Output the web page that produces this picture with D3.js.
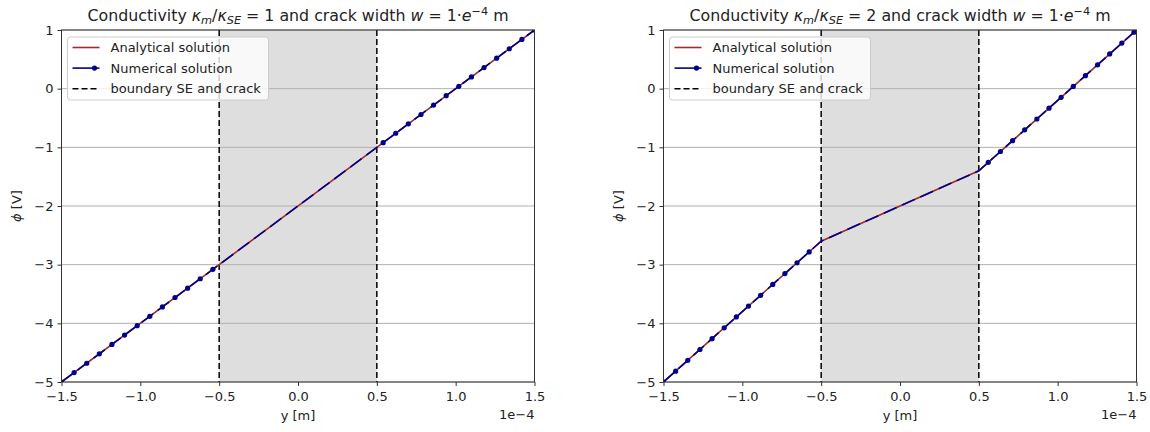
<!DOCTYPE html>
<html>
<head>
<meta charset="utf-8">
<script src="https://cdn.jsdelivr.net/npm/d3@7"></script>
<style>
  body { margin: 0; background: #fff; }
  svg { font-family: "DejaVu Sans", sans-serif; }
</style>
</head>
<body>
<svg id="chart" width="1150" height="432"></svg>
<script>
// axis ticks (x in units of 1e-4 m)
const xTicks = [-1.5, -1.0, -0.5, 0.0, 0.5, 1.0, 1.5];
const yTicks = [-5, -4, -3, -2, -1, 0, 1];
const crackBounds = [-0.5, 0.5];

// analytical solution: piecewise linear breakpoints
const breakX = [-1.5, -0.5, 0.5, 1.5];
const analytic1 = [-5, -3, -1, 1];
const analytic2 = [-5, -2.6, -1.4, 1];

// numerical solution nodes (shown with markers)
const numX1 = [-1.5, -1.42, -1.34, -1.26, -1.18, -1.10, -1.02, -0.94, -0.86, -0.78, -0.70, -0.62, -0.54,
               0.54, 0.62, 0.70, 0.78, 0.86, 0.94, 1.02, 1.10, 1.18, 1.26, 1.34, 1.42, 1.5];
const numY1 = [-5, -4.84, -4.68, -4.52, -4.36, -4.2, -4.04, -3.88, -3.72, -3.56, -3.4, -3.24, -3.08,
               -0.92, -0.76, -0.6, -0.44, -0.28, -0.12, 0.04, 0.2, 0.36, 0.52, 0.68, 0.84, 1.0];
const numX2 = [-1.5, -1.423, -1.346, -1.269, -1.192, -1.115, -1.038, -0.961, -0.884, -0.807, -0.73, -0.653, -0.576,
               0.56, 0.637, 0.714, 0.791, 0.868, 0.945, 1.022, 1.099, 1.176, 1.253, 1.33, 1.407, 1.484];
const numY2 = [-5, -4.815, -4.63, -4.446, -4.261, -4.076, -3.891, -3.706, -3.522, -3.337, -3.152, -2.967, -2.782,
               -1.256, -1.071, -0.886, -0.702, -0.517, -0.332, -0.147, 0.038, 0.222, 0.407, 0.592, 0.777, 0.962];

const panels = [
  { left: 61.5, ratio: '1', analytic: analytic1, nx: numX1, ny: numY1 },
  { left: 663.5, ratio: '2', analytic: analytic2, nx: numX2, ny: numY2 }
];

const redColor = '#a52a2a';
const blueColor = '#00008b';
const plotTop = 30, W = 473, H = 352;
const fs = 13, titleFs = 15.8, subFs = 11.3;
const fmt = d => (d < 0 ? '\u2212' : '') + Math.abs(d).toFixed(1);
const fmtY = d => (d < 0 ? '\u2212' : '') + Math.abs(d);

const svg = d3.select('#chart');

panels.forEach((p, i) => {
  const x = d3.scaleLinear().domain([-1.5, 1.5]).range([0, W]);
  const y = d3.scaleLinear().domain([-5, 1]).range([H, 0]);
  const g = svg.append('g').attr('transform', `translate(${p.left},${plotTop})`);

  g.append('defs').append('clipPath').attr('id', 'clip' + i)
    .append('rect').attr('width', W).attr('height', H);

  // shaded crack region
  g.append('rect')
    .attr('x', x(crackBounds[0])).attr('y', 0)
    .attr('width', x(crackBounds[1]) - x(crackBounds[0])).attr('height', H)
    .attr('fill', '#dedede');

  // horizontal grid
  g.selectAll('.grid').data(yTicks).enter().append('line')
    .attr('x1', 0).attr('x2', W)
    .attr('y1', d => y(d)).attr('y2', d => y(d))
    .attr('stroke', '#b0b0b0').attr('stroke-width', 1);

  const plot = g.append('g').attr('clip-path', `url(#clip${i})`);

  // boundary lines
  plot.selectAll('.bnd').data(crackBounds).enter().append('line')
    .attr('x1', d => x(d)).attr('x2', d => x(d))
    .attr('y1', 0).attr('y2', H)
    .attr('stroke', '#000').attr('stroke-width', 1.5)
    .attr('stroke-dasharray', '6,3');

  const line = d3.line().x(d => x(d[0])).y(d => y(d[1]));
  const aPts = breakX.map((bx, k) => [bx, p.analytic[k]]);
  const nPts = p.nx.map((nx, k) => [nx, p.ny[k]]);
  const nLine = nPts.concat(aPts).sort((a, b) => a[0] - b[0]);

  plot.append('path').datum(aPts).attr('d', line)
    .attr('fill', 'none').attr('stroke', redColor).attr('stroke-width', 1.6);
  plot.append('path').datum(nLine).attr('d', line)
    .attr('fill', 'none').attr('stroke', blueColor).attr('stroke-width', 1.6)
    .attr('stroke-dasharray', '14,6');
  plot.selectAll('.dot').data(nPts).enter().append('circle')
    .attr('cx', d => x(d[0])).attr('cy', d => y(d[1]))
    .attr('r', 2.6).attr('fill', blueColor);

  // axes
  const xAxis = g.append('g').attr('transform', `translate(0,${H})`)
    .call(d3.axisBottom(x).tickValues(xTicks).tickFormat(fmt).tickSize(4).tickPadding(6));
  const yAxis = g.append('g')
    .call(d3.axisLeft(y).tickValues(yTicks).tickFormat(fmtY).tickSize(4).tickPadding(4));
  [xAxis, yAxis].forEach(a => {
    a.select('.domain').remove();
    a.selectAll('text').attr('font-size', fs).attr('fill', '#222')
      .attr('font-family', '"DejaVu Sans", sans-serif');
    a.selectAll('line').attr('stroke', '#333');
  });

  // frame
  g.append('rect').attr('width', W).attr('height', H)
    .attr('fill', 'none').attr('stroke', '#333').attr('stroke-width', 1);

  // labels
  g.append('text').attr('x', W / 2).attr('y', H + 38)
    .attr('text-anchor', 'middle').attr('font-size', fs).attr('fill', '#222')
    .text('y [m]');
  g.append('text').attr('x', W).attr('y', H + 37)
    .attr('text-anchor', 'end').attr('font-size', fs).attr('fill', '#222')
    .text('1e\u22124');
  const yl = g.append('text')
    .attr('transform', `translate(-41,${H / 2}) rotate(-90)`)
    .attr('text-anchor', 'middle').attr('font-size', fs).attr('fill', '#222');
  yl.append('tspan').attr('font-style', 'italic').text('\u03d5');
  yl.append('tspan').text(' [V]');

  // title
  const t = g.append('text').attr('x', W / 2).attr('y', -9)
    .attr('text-anchor', 'middle').attr('font-size', titleFs).attr('fill', '#222');
  t.append('tspan').text('Conductivity ');
  t.append('tspan').attr('font-style', 'italic').text('\u03ba');
  t.append('tspan').attr('font-style', 'italic').attr('font-size', subFs).attr('dy', 3).text('m');
  t.append('tspan').attr('dy', -3).text('/');
  t.append('tspan').attr('font-style', 'italic').text('\u03ba');
  t.append('tspan').attr('font-style', 'italic').attr('font-size', subFs).attr('dy', 3).text('SE');
  t.append('tspan').attr('dy', -3).text(' = ' + p.ratio + ' and crack width ');
  t.append('tspan').attr('font-style', 'italic').text('w');
  t.append('tspan').text(' = 1\u00b7');
  t.append('tspan').attr('font-style', 'italic').text('e');
  t.append('tspan').attr('font-size', subFs).attr('dy', -6).text('\u22124');
  t.append('tspan').attr('dy', 6).text(' m');

  // legend
  const lg = g.append('g').attr('transform', 'translate(6,7)');
  lg.append('rect').attr('width', 201).attr('height', 63).attr('rx', 3)
    .attr('fill', 'white').attr('fill-opacity', 0.8)
    .attr('stroke', '#cccccc').attr('stroke-width', 1);
  const items = [
    { label: 'Analytical solution', color: redColor, dash: null, dot: false },
    { label: 'Numerical solution', color: blueColor, dash: null, dot: true },
    { label: 'boundary SE and crack', color: '#000', dash: '6,3', dot: false }
  ];
  items.forEach((it, k) => {
    const yy = 10.5 + k * 20.6;
    lg.append('line').attr('x1', 5).attr('x2', 32).attr('y1', yy).attr('y2', yy)
      .attr('stroke', it.color).attr('stroke-width', 1.6)
      .attr('stroke-dasharray', it.dash);
    if (it.dot) lg.append('circle').attr('cx', 27).attr('cy', yy).attr('r', 2.6).attr('fill', it.color);
    lg.append('text').attr('x', 43).attr('y', yy + 4.5)
      .attr('font-size', fs).attr('fill', '#222').text(it.label);
  });
});
</script>
</body>
</html>
